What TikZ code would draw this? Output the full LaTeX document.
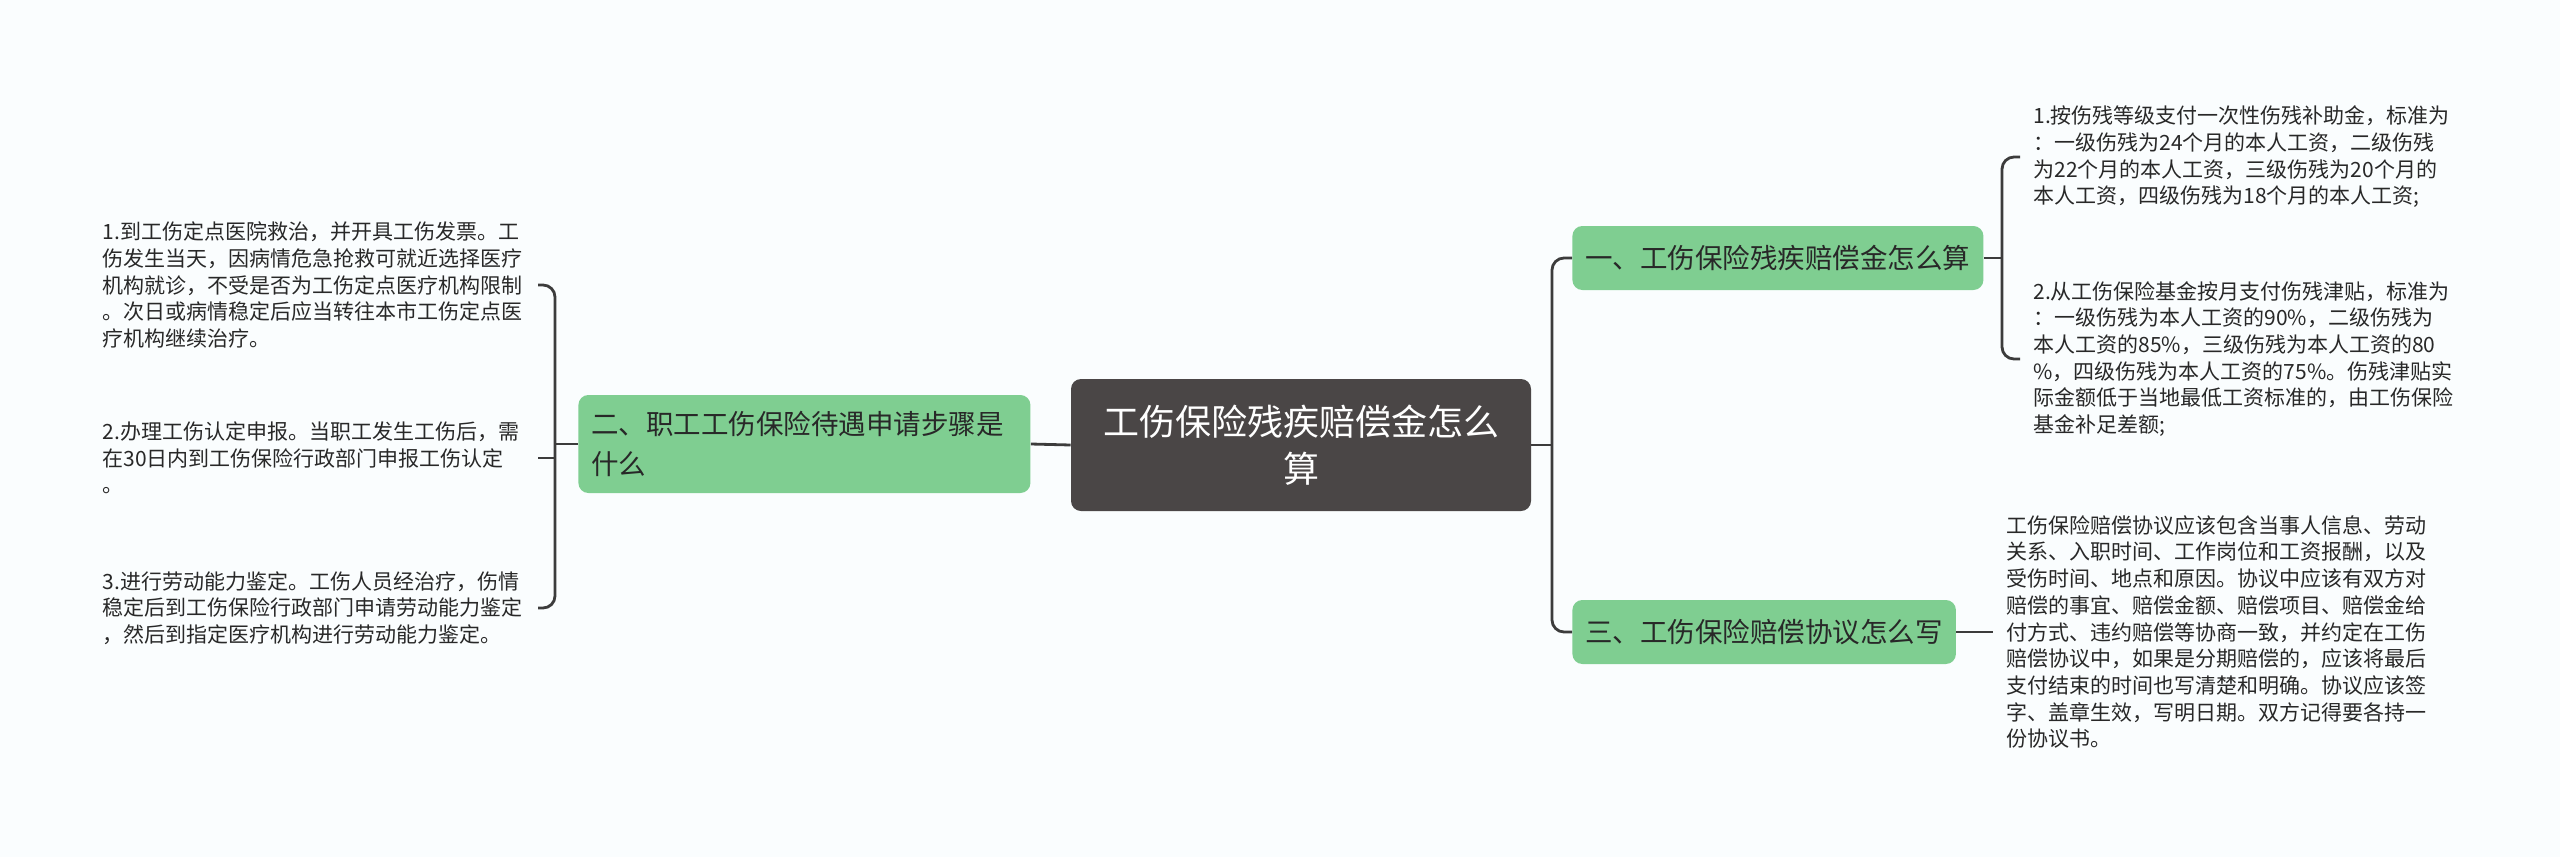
\documentclass[tikz,border=0pt]{standalone}
\usepackage{fontspec}
\setmainfont{Noto Sans CJK SC}
\usepackage{tikz}
\definecolor{bgcol}{RGB}{250,253,254}
\definecolor{hubcol}{RGB}{74,70,70}
\definecolor{topiccol}{RGB}{127,206,145}
\definecolor{linkcol}{RGB}{60,60,60}
\definecolor{txtcol}{RGB}{40,40,40}

\begin{document}
\begin{tikzpicture}[x=0.5pt,y=-0.5pt,
	hub/.style={fill=hubcol, text=white, rounded corners=5pt, minimum width=230pt, minimum height=66pt, align=center, font={\fontsize{18}{23.5}\selectfont}},
	topic/.style={fill=topiccol, text=txtcol, rounded corners=5pt, minimum height=32pt, inner xsep=6.5pt, font={\fontsize{13.75}{19.6}\selectfont}},
	leaf/.style={text=txtcol, inner xsep=6.5pt, inner ysep=0pt, text width=211pt, align=left, font={\fontsize{10.5}{13.35}\selectfont}},
	link/.style={draw=linkcol, line width=1.4pt, rounded corners=6pt}]
\fill[bgcol] (0,0) rectangle (2560,857);
\useasboundingbox (0,0) rectangle (2560,857);

\node[hub] (ctr) at (1301,445) {工伤保险残疾赔偿金怎么\\算};
\node[topic, anchor=west, text width=213pt, minimum height=49pt, align=left] (step) at (578,444) {二、职工工伤保险待遇申请步骤是\\什么};
\node[topic, anchor=west] (calc) at (1572,258) {一、工伤保险残疾赔偿金怎么算};
\node[topic, anchor=west] (agree) at (1572,632) {三、工伤保险赔偿协议怎么写};

% left leaves
\node[leaf, anchor=east] (lk1) at (538,285) {1.到工伤定点医院救治，并开具工伤发票。工\\伤发生当天，因病情危急抢救可就近选择医疗\\机构就诊，不受是否为工伤定点医疗机构限制\\。次日或病情稳定后应当转往本市工伤定点医\\疗机构继续治疗。};
\node[leaf, anchor=east] (lk2) at (538,458) {2.办理工伤认定申报。当职工发生工伤后，需\\在30日内到工伤保险行政部门申报工伤认定\\。};
\node[leaf, anchor=east] (lk3) at (538,608) {3.进行劳动能力鉴定。工伤人员经治疗，伤情\\稳定后到工伤保险行政部门申请劳动能力鉴定\\，然后到指定医疗机构进行劳动能力鉴定。};

% right leaves
\node[leaf, anchor=west] (rk1) at (2020,157) {1.按伤残等级支付一次性伤残补助金，标准为\\：一级伤残为24个月的本人工资，二级伤残\\为22个月的本人工资，三级伤残为20个月的\\本人工资，四级伤残为18个月的本人工资;};
\node[leaf, anchor=west] (rk2) at (2020,359) {2.从工伤保险基金按月支付伤残津贴，标准为\\：一级伤残为本人工资的90\%，二级伤残为\\本人工资的85\%，三级伤残为本人工资的80\\\%，四级伤残为本人工资的75\%。伤残津贴实\\际金额低于当地最低工资标准的，由工伤保险\\基金补足差额;};
\node[leaf, anchor=west] (rk3) at (1993,632) {工伤保险赔偿协议应该包含当事人信息、劳动\\关系、入职时间、工作岗位和工资报酬，以及\\受伤时间、地点和原因。协议中应该有双方对\\赔偿的事宜、赔偿金额、赔偿项目、赔偿金给\\付方式、违约赔偿等协商一致，并约定在工伤\\赔偿协议中，如果是分期赔偿的，应该将最后\\支付结束的时间也写清楚和明确。协议应该签\\字、盖章生效，写明日期。双方记得要各持一\\份协议书。};

\coordinate (lb) at (555,444);
\coordinate (rb) at (1552,445);
\coordinate (cb) at (2002,258);

\draw[link] (ctr.west) -- (step.east);
\draw[link] (ctr.east) -- (rb);
\draw[link] (calc.west) -| (rb) |- (agree.west);
\draw[link] (step.west) -- (lb);
\draw[link] (lk1.east) -| (lb) |- (lk3.east);
\draw[link] (lk2.east) -- (lk2.east -| lb);
\draw[link] (calc.east) -- (cb);
\draw[link] (rk1.west) -| (cb) |- (rk2.west);
\draw[link] (agree.east) -- (rk3.west);
\end{tikzpicture}
\end{document}
